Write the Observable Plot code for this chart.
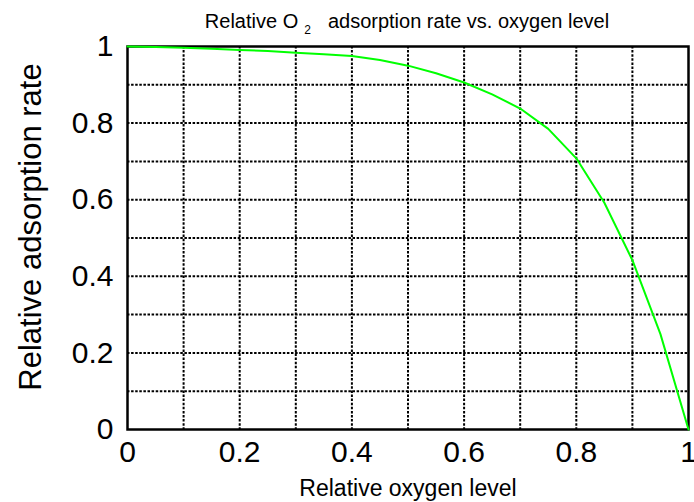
<!DOCTYPE html>
<html><head><meta charset="utf-8">
<script src="https://cdn.jsdelivr.net/npm/d3@7"></script>
<script src="https://cdn.jsdelivr.net/npm/@observablehq/plot@0.6"></script>
<style>
body{margin:0;background:#fff;}
#chart{width:694px;height:502px;font-family:"Liberation Sans",Arial,sans-serif;}
</style>
</head><body><div id="chart"></div>
<script>
const oxygenLevel    = [0, 0.05, 0.1, 0.15, 0.2, 0.25, 0.3, 0.35, 0.4, 0.45, 0.5, 0.55, 0.6, 0.65, 0.7, 0.75, 0.8, 0.85, 0.9, 0.95, 1.0];
const adsorptionRate = [1.000, 0.999, 0.997, 0.994, 0.991, 0.988, 0.984, 0.980, 0.975, 0.965, 0.950, 0.930, 0.906, 0.875, 0.838, 0.785, 0.708, 0.592, 0.442, 0.249, 0.0];
const xTickLabels = [0, 0.2, 0.4, 0.6, 0.8, 1];
const yTickLabels = [0, 0.2, 0.4, 0.6, 0.8, 1];
const gridLines = [0.1, 0.2, 0.3, 0.4, 0.5, 0.6, 0.7, 0.8, 0.9];
const titleMain = "Relative O";
const titleSub = "2";
const titleRest = "adsorption rate vs. oxygen level";
const xLabel = "Relative oxygen level";
const yLabel = "Relative adsorption rate";

const data = oxygenLevel.map((x, i) => ({x, y: adsorptionRate[i]}));
const fmt = d => String(d);
const dotted = {stroke: "#000", strokeOpacity: 1, strokeWidth: 2, strokeDasharray: "2.5,1.6"};

const plot = Plot.plot({
  width: 694, height: 502,
  marginLeft: 127, marginRight: 6, marginTop: 46, marginBottom: 73,
  style: {fontFamily: '"Liberation Sans", Arial, sans-serif', background: "#fff", color: "#000"},
  x: {domain: [0, 1]},
  y: {domain: [0, 1]},
  marks: [
    Plot.gridX(gridLines, dotted),
    Plot.gridY(gridLines, dotted),
    Plot.frame({stroke: "#000", strokeWidth: 2.5}),
    Plot.line(data, {x: "x", y: "y", stroke: "#00ff00", strokeWidth: 2}),
    Plot.axisX(xTickLabels, {tickSize: 0, tickPadding: 11, fontSize: 30, tickFormat: fmt, label: null}),
    Plot.axisY(yTickLabels, {tickSize: 0, tickPadding: 14, fontSize: 30, tickFormat: fmt, label: null}),
    Plot.text([xLabel], {frameAnchor: "bottom", dy: 66, fontSize: 23, lineAnchor: "bottom"}),
    Plot.text([yLabel], {frameAnchor: "left", dx: -87, dy: -11, rotate: -90, fontSize: 31, textAnchor: "middle", lineAnchor: "bottom"})
  ]
});
document.getElementById("chart").appendChild(plot);

const svg = d3.select(plot);
const t = svg.append("text")
  .attr("x", 407).attr("y", 28)
  .attr("text-anchor", "middle")
  .attr("font-size", 20)
  .attr("fill", "#000");
t.append("tspan").text(titleMain);
t.append("tspan").attr("font-size", 12).attr("dx", 6).attr("dy", 6).text(titleSub);
t.append("tspan").attr("dx", 17).attr("dy", -6).text(titleRest);
</script>
</body></html>
